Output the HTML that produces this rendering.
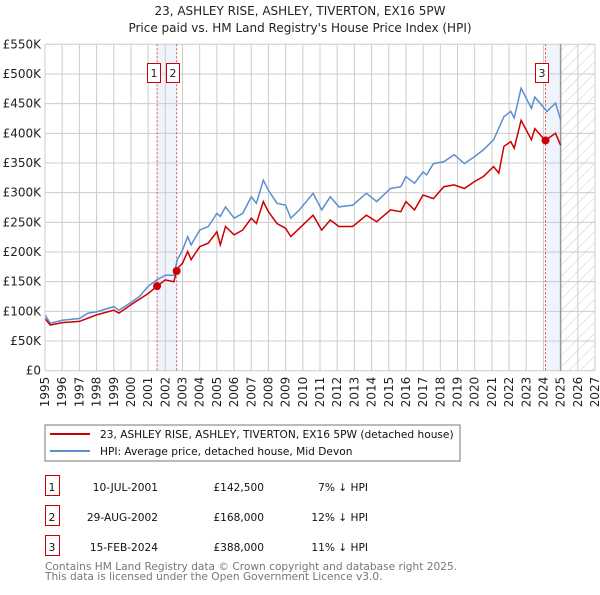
<!DOCTYPE html>
<html><head><meta charset="utf-8"><style>
body{margin:0;background:#fff;}
svg text{font-family:"DejaVu Sans","Liberation Sans",sans-serif;}
</style></head><body>
<svg id="c" width="600" height="590" xmlns="http://www.w3.org/2000/svg">
<defs><pattern id="hatch" width="8" height="8" patternUnits="userSpaceOnUse" patternTransform="rotate(45)"><line x1="0" y1="0" x2="0" y2="8" stroke="#ccc" stroke-width="1"/></pattern></defs>
<text x="300" y="15" text-anchor="middle" font-size="12" fill="#222">23, ASHLEY RISE, ASHLEY, TIVERTON, EX16 5PW</text>
<text x="300" y="32" text-anchor="middle" font-size="12" fill="#222">Price paid vs. HM Land Registry's House Price Index (HPI)</text>
<g id="plot"></g>
<rect x="45" y="425" width="415" height="36" fill="#fff" stroke="#777"/>
<line x1="50" y1="434" x2="90" y2="434" stroke="#cc0000" stroke-width="2"/>
<text x="100" y="438" font-size="10.6" fill="#111">23, ASHLEY RISE, ASHLEY, TIVERTON, EX16 5PW (detached house)</text>
<line x1="50" y1="451" x2="90" y2="451" stroke="#5b8fd0" stroke-width="2"/>
<text x="100" y="455" font-size="10.6" fill="#111">HPI: Average price, detached house, Mid Devon</text>
<g font-size="10.6" fill="#111">
<rect x="45.5" y="475.5" width="14" height="20" fill="none" stroke="#cc0000"/><text x="52" y="491" text-anchor="middle">1</text>
<text x="158" y="491" text-anchor="end">10-JUL-2001</text><text x="264" y="491" text-anchor="end">£142,500</text><text x="368" y="491" text-anchor="end">7% ↓ HPI</text>
<rect x="45.5" y="505.5" width="14" height="20" fill="none" stroke="#cc0000"/><text x="52" y="521" text-anchor="middle">2</text>
<text x="158" y="521" text-anchor="end">29-AUG-2002</text><text x="264" y="521" text-anchor="end">£168,000</text><text x="368" y="521" text-anchor="end">12% ↓ HPI</text>
<rect x="45.5" y="535.5" width="14" height="20" fill="none" stroke="#cc0000"/><text x="52" y="551" text-anchor="middle">3</text>
<text x="158" y="551" text-anchor="end">15-FEB-2024</text><text x="264" y="551" text-anchor="end">£388,000</text><text x="368" y="551" text-anchor="end">11% ↓ HPI</text>
</g>
<text x="45" y="570" font-size="10.6" fill="#777">Contains HM Land Registry data © Crown copyright and database right 2025.</text>
<text x="45" y="580" font-size="10.6" fill="#777">This data is licensed under the Open Government Licence v3.0.</text>
</svg>
<script>
const hpiYears=[1995,1995.3,1996,1997,1997.5,1998,1999,1999.3,2000,2000.5,2001,2001.5,2002,2002.5,2002.7,2003,2003.3,2003.5,2004,2004.5,2005,2005.2,2005.5,2006,2006.5,2007,2007.3,2007.7,2008,2008.5,2009,2009.3,2009.8,2010.6,2011.1,2011.6,2012.1,2012.9,2013.7,2014.3,2015.1,2015.7,2016.0,2016.5,2017.0,2017.2,2017.6,2018.2,2018.8,2019.4,2020.0,2020.5,2021.1,2021.7,2022.1,2022.3,2022.7,2023.3,2023.5,2024.2,2024.7,2025.0];
const hpiValues=[94,80,85,88,97,99,108,102,115,125,142,153,161,161,187,203,226,212,237,243,265,260,276,257,265,293,282,321,304,282,279,257,271,299,271,293,276,279,299,285,307,310,327,316,335,330,349,352,364,349,361,372,389,428,437,426,476,442,461,437,451,423];
const priceYears=[1995,1995.3,1996,1997,1998,1999,1999.3,2000,2001,2001.5,2002,2002.5,2002.7,2003,2003.3,2003.5,2004,2004.5,2005,2005.2,2005.5,2006,2006.5,2007,2007.3,2007.7,2008,2008.5,2009,2009.3,2009.8,2010.6,2011.1,2011.6,2012.1,2012.9,2013.7,2014.3,2015.1,2015.7,2016.0,2016.5,2017.0,2017.6,2018.2,2018.8,2019.4,2020.0,2020.5,2021.1,2021.4,2021.7,2022.1,2022.3,2022.7,2023.3,2023.5,2024.1,2024.7,2025.0];
const priceValues=[88,77,81,83,94,102,97,111,130,142,153,150,172,181,201,187,209,215,234,212,243,229,237,257,248,285,268,248,240,226,240,262,237,254,243,243,262,251,271,268,285,271,296,290,310,313,307,319,327,344,333,378,386,375,422,389,408,388,400,380];
const saleLabels=["1","2","3"];
const saleYears=[2001.52,2002.66,2024.12];
const salePrices=[142.5,168,388];
const yTicks=[0,50,100,150,200,250,300,350,400,450,500,550];
const yTickLabels=["£0","£50K","£100K","£150K","£200K","£250K","£300K","£350K","£400K","£450K","£500K","£550K"];
const xTicks=[1995,1996,1997,1998,1999,2000,2001,2002,2003,2004,2005,2006,2007,2008,2009,2010,2011,2012,2013,2014,2015,2016,2017,2018,2019,2020,2021,2022,2023,2024,2025,2026,2027];
const dataEnd=2025;
const X0=45,X1=595,Y0=370.7,Y1=44.3;
const xs=y=>X0+(y-1995)/(2027-1995)*(X1-X0);
const ys=v=>Y0-v/550*(Y0-Y1);
const NS="http://www.w3.org/2000/svg";
const g=document.getElementById('plot');
function mk(t,a){const e=document.createElementNS(NS,t);for(const k in a)e.setAttribute(k,a[k]);g.appendChild(e);return e;}
let b=mk('rect',{x:xs(saleYears[0]),y:Y1,width:xs(saleYears[1])-xs(saleYears[0]),height:Y0-Y1,fill:'#eef3fc'});


b=mk('rect',{x:xs(saleYears[2]),y:Y1,width:xs(dataEnd)-xs(saleYears[2]),height:Y0-Y1,fill:'#eef3fc'});


b=mk('rect',{x:xs(dataEnd),y:Y1,width:X1-xs(dataEnd),height:Y0-Y1,fill:'url(#hatch)'});


yTicks.forEach((t,i)=>{
 const l=mk('line',{x1:X0,x2:X1,y1:ys(t),y2:ys(t),stroke:'#ccc'});
 
 
 const tx=mk('text',{x:X0-4,y:ys(t)+4,'text-anchor':'end','font-size':'12',fill:'#222'});
 tx.textContent=yTickLabels[i];
 
 
});
xTicks.forEach(t=>{
 const l=mk('line',{x1:xs(t),x2:xs(t),y1:Y1,y2:Y0,stroke:'#ccc'});
 
 
 const tx=mk('text',{x:0,y:0,'text-anchor':'end','font-size':'12',fill:'#222',transform:`translate(${xs(t)+4},${Y0+6}) rotate(-90)`});
 tx.textContent=t;
 
 
});
let d=mk('line',{x1:xs(dataEnd),x2:xs(dataEnd),y1:Y1,y2:Y0,stroke:'#999','stroke-width':1.5});


saleYears.forEach((s,i)=>{
 const l=mk('line',{x1:xs(s),x2:xs(s),y1:Y1,y2:Y0,stroke:'#e05050','stroke-dasharray':'2,2'});
 
 
});
function path(xa,va,col,name){
 const p=mk('path',{d:xa.map((x,i)=>(i?'L':'M')+xs(x).toFixed(1)+','+ys(va[i]).toFixed(1)).join(''),fill:'none',stroke:col,'stroke-width':1.5});
 
 
}
path(hpiYears,hpiValues,'#5b8fd0','hpi-line');
path(priceYears,priceValues,'#cc0000','price-line');
saleYears.forEach((s,i)=>{
 const c=mk('circle',{cx:xs(s),cy:ys(salePrices[i]),r:4,fill:'#cc0000'});
 
 
 const bx=Math.round(xs(s)-10.5)+0.5;
 const r=mk('rect',{x:bx,y:63.5,width:13,height:19,fill:'#fff',stroke:'#cc0000'});
 
 
 const t=mk('text',{x:bx+6.5,y:77,'text-anchor':'middle','font-size':'11',fill:'#222'});
 t.textContent=saleLabels[i];
 
 
});
let ax=mk('line',{x1:X0,x2:X0,y1:Y1,y2:Y0,stroke:'#ccc'});


</script>
</body></html>
